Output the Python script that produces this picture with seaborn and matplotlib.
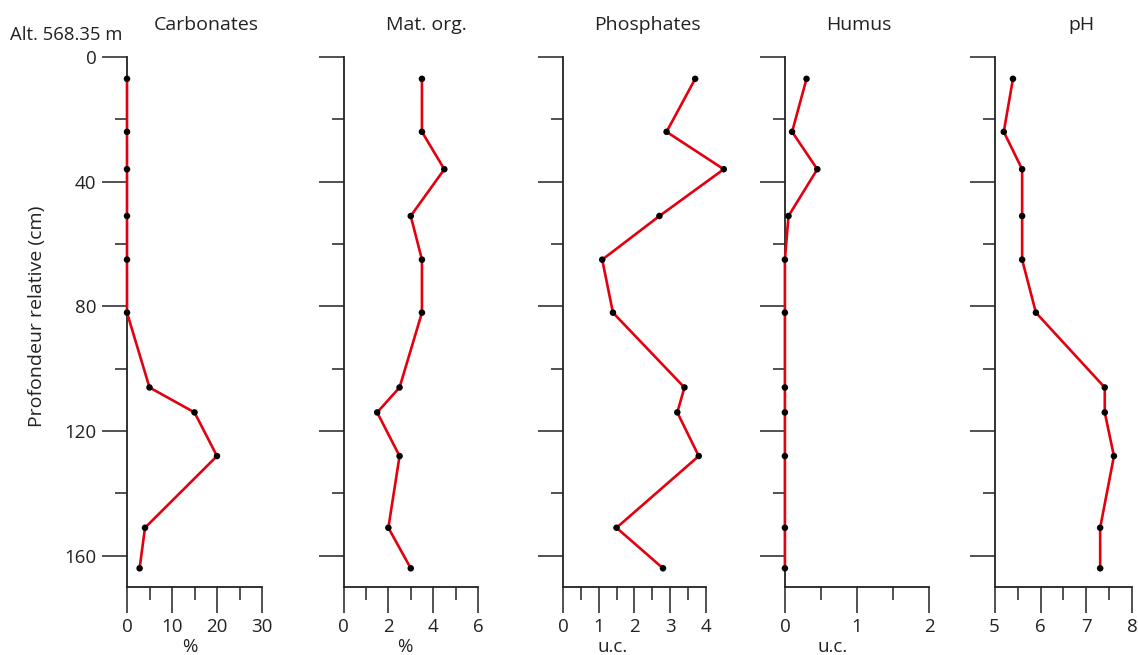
import numpy as np
import pandas as pd
import matplotlib
matplotlib.use("Agg")
import matplotlib.pyplot as plt
import seaborn as sns
from matplotlib.ticker import MultipleLocator

# ---- data ----
depth = [7, 24, 36, 51, 65, 82, 106, 114, 128, 151, 164]
carbonates = [0, 0, 0, 0, 0, 0, 5, 15, 20, 4, 2.8]
mat_org = [3.5, 3.5, 4.5, 3.0, 3.5, 3.5, 2.5, 1.5, 2.5, 2.0, 3.0]
phosphates = [3.7, 2.9, 4.5, 2.7, 1.1, 1.4, 3.4, 3.2, 3.8, 1.5, 2.8]
humus = [0.3, 0.1, 0.45, 0.05, 0, 0, 0, 0, 0, 0, 0]
ph = [5.4, 5.2, 5.6, 5.6, 5.6, 5.9, 7.4, 7.4, 7.6, 7.3, 7.3]

titles = ["Carbonates", "Mat. org.", "Phosphates", "Humus", "pH"]
units = ["%", "%", "u.c.", "u.c.", ""]
series = [carbonates, mat_org, phosphates, humus, ph]
xlims = [(0, 30), (0, 6), (0, 4), (0, 2), (5, 8)]
major_step = [10, 2, 1, 1, 1]
minor_step = [5, 1, 0.5, 0.5, 0.5]
ytick_labels = ["0", "40", "80", "120", "160"]

# ---- style ----
sns.set_theme(style="ticks")
plt.rcParams["font.family"] = ["Open Sans", "DejaVu Sans"]
RED = "#e3000f"
INK = "#222222"

W, H = 1138, 655
fig = plt.figure(figsize=(W / 100, H / 100), dpi=100)

lefts = [127, 343.6, 562.9, 784.9, 994.6]
rights = [262, 477.9, 705.9, 929, 1132.3]
top_px, bot_px = 57, 587
title_fx = [0.59, 0.62, 0.59, 0.51, 0.63]
unit_fx = [0.467, 0.457, 0.35, 0.334, 0.5]

for i, (vals, title, unit) in enumerate(zip(series, titles, units)):
    ax = fig.add_axes([lefts[i] / W, (H - bot_px) / H,
                       (rights[i] - lefts[i]) / W, (bot_px - top_px) / H])
    df = pd.DataFrame({"depth": depth, "value": vals})
    sns.lineplot(data=df, x="value", y="depth", sort=False, estimator=None,
                 color=RED, lw=1.9, ax=ax, zorder=3, clip_on=False)
    sns.scatterplot(data=df, x="value", y="depth", color="black", s=22,
                    edgecolor="none", ax=ax, zorder=4, clip_on=False)
    ax.set_xlim(*xlims[i])
    ax.set_ylim(170, 0)
    ax.set_xlabel("")
    ax.set_ylabel("")
    for s in ["top", "right"]:
        ax.spines[s].set_visible(False)
    for s in ["left", "bottom"]:
        ax.spines[s].set_color(INK)
        ax.spines[s].set_linewidth(1.3)
    ax.xaxis.set_major_locator(MultipleLocator(major_step[i]))
    ax.xaxis.set_minor_locator(MultipleLocator(minor_step[i]))
    ax.yaxis.set_major_locator(MultipleLocator(40))
    ax.yaxis.set_minor_locator(MultipleLocator(20))
    ax.tick_params(axis="x", which="major", length=18.5, width=1.1, color=INK,
                   direction="out", pad=4, labelsize=13.5, labelcolor=INK)
    ax.tick_params(axis="x", which="minor", length=9.3, width=1.1, color=INK,
                   direction="out")
    ax.tick_params(axis="y", which="major", length=18, width=1.1, color=INK,
                   direction="out", pad=4, labelsize=13.5, labelcolor=INK)
    ax.tick_params(axis="y", which="minor", length=8.6, width=1.1, color=INK,
                   direction="out")
    if i == 0:
        ax.set_yticks([0, 40, 80, 120, 160], ytick_labels)
    else:
        ax.tick_params(axis="y", labelleft=False)
    ax.set_facecolor("none")
    ax.text(title_fx[i], 1 + 32 / (bot_px - top_px), title, transform=ax.transAxes,
            ha="center", va="center", fontsize=14, color=INK)
    if unit:
        ax.text(unit_fx[i], -60 / (bot_px - top_px), unit, transform=ax.transAxes,
                ha="center", va="center", fontsize=13.5, color=INK)

fig.text(10 / W, 1 - 35 / H, "Alt. 568.35 m", ha="left", va="center",
         fontsize=13.3, color=INK)
fig.text(37 / W, 1 - 316 / H, "Profondeur relative (cm)", rotation=90,
         ha="center", va="center", fontsize=14, color=INK)

fig.savefig("out.png", dpi=100, facecolor="white")
